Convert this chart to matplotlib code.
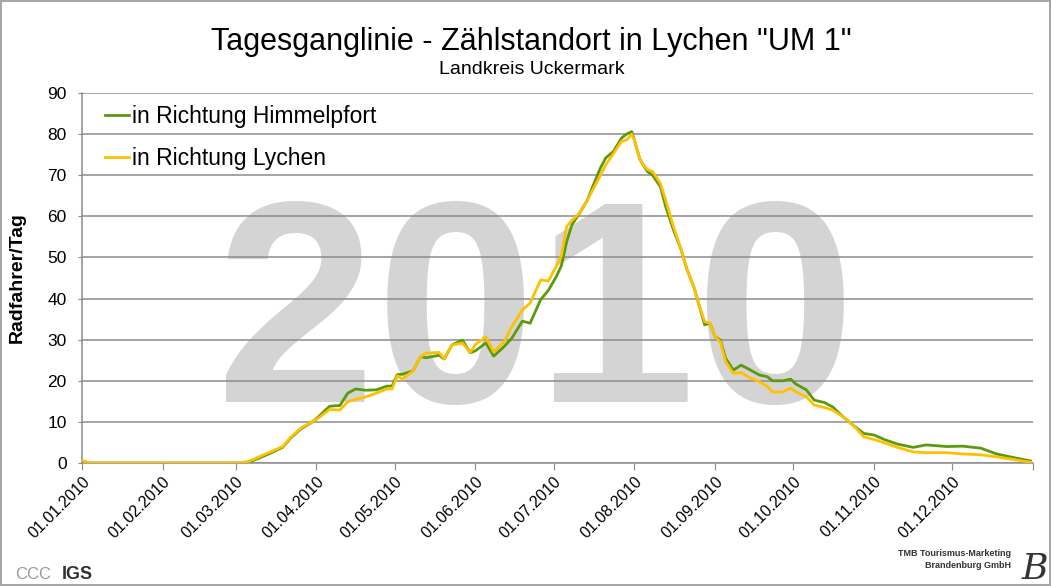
import numpy as np
import matplotlib
matplotlib.use('Agg')
import matplotlib.pyplot as plt
import matplotlib.dates as mdates

###############################################################################
# Daten (Tag des Jahres ab 01.01.2010, Radfahrer/Tag, gleitend geglaettet)
tage = [0, 3, 60, 64, 68, 72, 77, 80, 84, 88, 90, 95, 99, 102, 105, 109, 113,
        117, 119, 121, 123, 127, 130, 132, 137, 139, 142, 146, 149, 151, 155,
        158, 162, 165, 169, 172, 176, 179, 182, 184, 186, 188, 191, 194, 196,
        199, 201, 204, 207, 209, 211, 212, 214, 215, 217, 219, 222, 224, 227,
        230, 232, 235, 237, 239, 241, 243, 245, 247, 250, 253, 256, 260, 263,
        265, 269, 272, 274, 278, 281, 285, 288, 292, 296, 300, 304, 308, 313,
        319, 324, 332, 338, 345, 351, 357, 364]

himmelpfort = [0.5, 0.0, 0.0, 0.2, 1.2, 2.3, 3.8, 6.0, 8.3, 9.8, 10.8, 13.8,
               14.0, 17.0, 18.0, 17.7, 17.8, 18.7, 18.7, 21.5, 21.6, 22.4,
               25.9, 25.6, 26.2, 25.3, 28.7, 29.9, 26.8, 27.3, 29.2, 26.0,
               28.3, 30.4, 34.5, 34.0, 39.7, 42.0, 45.3, 48.0, 53.8, 57.9,
               60.8, 64.0, 67.2, 71.8, 74.2, 75.8, 79.0, 80.0, 80.6, 78.6,
               74.1, 72.9, 70.9, 70.0, 67.2, 62.4, 56.7, 51.8, 47.4, 42.5,
               38.0, 33.6, 34.0, 30.7, 29.9, 25.5, 22.6, 23.8, 22.8, 21.4,
               21.0, 20.0, 20.0, 20.4, 19.2, 17.8, 15.3, 14.7, 13.7, 11.3,
               9.2, 7.2, 6.8, 5.7, 4.6, 3.8, 4.4, 4.0, 4.1, 3.6, 2.2, 1.4, 0.5]

lychen = [0.6, 0.0, 0.0, 0.4, 1.5, 2.6, 4.0, 6.2, 8.5, 9.9, 10.6, 13.0,
          12.9, 14.9, 15.5, 16.1, 17.0, 18.0, 18.0, 21.2, 20.4, 22.4,
          25.9, 26.7, 26.9, 25.4, 28.7, 29.2, 26.9, 28.8, 30.7, 27.0,
          29.5, 33.2, 37.2, 38.9, 44.5, 44.3, 47.8, 50.5, 57.5, 59.0,
          60.8, 64.0, 66.4, 70.0, 72.5, 75.3, 78.2, 78.6, 80.0, 78.6,
          74.1, 72.9, 71.4, 70.9, 68.0, 64.0, 57.5, 51.8, 47.4, 42.5,
          38.0, 34.4, 34.0, 30.7, 29.5, 24.7, 21.8, 22.0, 20.8, 19.8,
          18.6, 17.3, 17.3, 18.2, 17.3, 16.1, 14.1, 13.5, 12.9, 11.3,
          9.2, 6.4, 5.7, 4.9, 3.8, 2.7, 2.5, 2.5, 2.2, 2.0, 1.5, 0.9, 0.2]

start = np.datetime64('2010-01-01')
datum = start + np.array(tage).astype('timedelta64[D]')

###############################################################################
fig = plt.figure(figsize=(10.51, 5.86), dpi=100)
fig.patch.set_edgecolor('#a6a6a6')
fig.patch.set_linewidth(1.5)
ax = fig.add_axes([82/1051, 1-463/586, (1033-82)/1051, (463-93)/586])

ax.text(0.477, 0.166, '2010', transform=ax.transAxes, ha='center',
        va='baseline', fontsize=207, fontweight='bold', color='#d4d4d4',
        family='Liberation Sans', zorder=0)

ax.plot(datum, himmelpfort, c='#5b9a0c', lw=2.0, label='in Richtung Himmelpfort', zorder=3)
ax.plot(datum, lychen, c='#ffc000', lw=2.0, label='in Richtung Lychen', zorder=4)

ax.set_xlim(np.datetime64('2010-01-01'), np.datetime64('2011-01-01'))
ax.set_ylim(0, 90)
ax.set_yticks(range(0, 91, 10))
ax.xaxis.set_major_locator(mdates.MonthLocator())
ax.xaxis.set_major_formatter(mdates.DateFormatter('%d.%m.%Y'))
ax.grid(axis='y', color='#8c8c8c', lw=1.1)
ax.set_axisbelow(True)

for s in ['top', 'right']:
    ax.spines[s].set_visible(False)
for s in ['left', 'bottom']:
    ax.spines[s].set_color('#8c8c8c')
    ax.spines[s].set_linewidth(1.1)

ax.tick_params(axis='y', length=3, color='#8c8c8c', pad=8, labelsize=12.5)
ax.tick_params(axis='x', length=5, color='#8c8c8c', pad=3, labelsize=11.5)
for lab in ax.get_yticklabels() + ax.get_xticklabels():
    lab.set_family('Liberation Sans')
plt.setp(ax.get_xticklabels(), rotation=45, ha='right', rotation_mode='anchor')
labs = ax.get_xticklabels()
labs[-1].set_visible(False)

ax.set_ylabel('Radfahrer/Tag', fontsize=14, fontweight='bold', family='Liberation Sans')
ax.yaxis.set_label_coords(-0.059, 0.5)

leg = ax.legend(loc='upper left', bbox_to_anchor=(0.024, 0.968), frameon=False,
                prop={'family': 'Liberation Sans', 'size': 16.5},
                handlelength=1.05, handletextpad=0.12, labelspacing=0.85,
                borderpad=0, borderaxespad=0)

fig.text(0.506, 0.915, 'Tagesganglinie - Zählstandort in Lychen "UM 1"',
         ha='center', va='baseline', fontsize=22, family='Liberation Sans')
fig.text(0.506, 0.873, 'Landkreis Uckermark', ha='center', va='baseline',
         fontsize=14, family='Liberation Sans')

# Logos unten
fig.text(0.014, 0.012, 'CCC', fontsize=12, color='#9a9a9a', family='Liberation Sans')
fig.text(0.059, 0.012, 'IGS', fontsize=13, fontweight='bold', color='#333333',
         family='Liberation Sans')
fig.text(0.962, 0.028, 'TMB Tourismus-Marketing\nBrandenburg GmbH', ha='right',
         va='bottom', fontsize=6.5, fontweight='bold', color='#333333',
         family='Liberation Sans', linespacing=1.3)
fig.text(0.985, 0.012, 'B', fontsize=26, style='italic', color='#333333',
         family='DejaVu Serif', ha='center')

fig.savefig('out.png', dpi=100)
